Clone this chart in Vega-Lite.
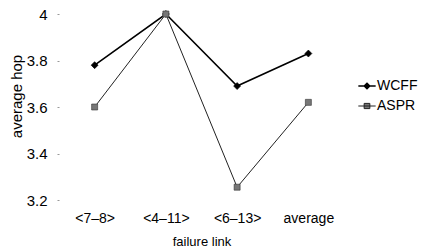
{
  "$schema": "https://vega.github.io/schema/vega-lite/v6.json",
  "width": 285,
  "height": 186,
  "autosize": {"type": "none"},
  "padding": {"left": 59, "top": 14, "right": 81, "bottom": 51},
  "background": "white",
  "config": {
    "view": {"stroke": null},
    "font": "Liberation Sans",
    "axis": {"grid": false, "domain": false, "labelColor": "black", "titleColor": "black", "titleFontWeight": "normal", "labelFont": "Liberation Sans", "titleFont": "Liberation Sans"},
    "legend": {"labelFont": "Liberation Sans", "labelColor": "black"}
  },
  "data": {
    "values": [
      {"link": "<7–8>", "series": "WCFF", "value": 3.78},
      {"link": "<4–11>", "series": "WCFF", "value": 4.0},
      {"link": "<6–13>", "series": "WCFF", "value": 3.69},
      {"link": "average", "series": "WCFF", "value": 3.83},
      {"link": "<7–8>", "series": "ASPR", "value": 3.6},
      {"link": "<4–11>", "series": "ASPR", "value": 4.0},
      {"link": "<6–13>", "series": "ASPR", "value": 3.255},
      {"link": "average", "series": "ASPR", "value": 3.62}
    ]
  },
  "encoding": {
    "x": {
      "field": "link", "type": "nominal", "sort": ["<7–8>", "<4–11>", "<6–13>", "average"],
      "scale": {"type": "point", "padding": 0.5},
      "axis": {"title": "failure link", "labelAngle": 0, "ticks": false, "labelPadding": 11, "labelFontSize": 14, "titleFontSize": 13, "titleBaseline": "alphabetic", "titleY": 45}
    },
    "y": {
      "field": "value", "type": "quantitative",
      "scale": {"domain": [3.2, 4.0], "nice": false, "zero": false},
      "axis": {"title": "average hop", "values": [3.2, 3.4, 3.6, 3.8, 4.0], "format": "~g", "tickSize": 2, "tickColor": "#999", "labelPadding": 10, "labelFontSize": 15, "titleFontSize": 15, "titleAngle": -90, "titleBaseline": "alphabetic", "titleAlign": "center", "titleX": -38, "titleY": 82}
    }
  },
  "layer": [
    {
      "mark": {"type": "line"},
      "encoding": {
        "color": {
          "field": "series", "type": "nominal", "sort": ["WCFF", "ASPR"],
          "scale": {"domain": ["WCFF", "ASPR"], "range": ["#000000", "#222222"]},
          "legend": {
            "title": null, "orient": "none", "legendX": 301, "legendY": 65, "padding": 0,
            "symbolSize": 300, "labelFontSize": 14, "labelOffset": 3, "rowPadding": 6,
            "symbolType": "stroke",
            "encode": {
              "symbols": {
                "update": {
                  "shape": {"signal": "datum.value === 'WCFF' ? 'M-1,0H1M0,-0.32L0.32,0L0,0.32L-0.32,0Z' : 'M-1,0H1M-0.33,-0.3H0.33V0.3H-0.33Z'"},
                  "fill": {"signal": "datum.value === 'WCFF' ? '#000000' : '#777777'"},
                  "stroke": {"signal": "datum.value === 'WCFF' ? '#000000' : '#222222'"},
                  "strokeWidth": {"signal": "datum.value === 'WCFF' ? 1.5 : 1"},
                  "opacity": {"value": 1},
                  "fillOpacity": {"value": 1},
                  "strokeOpacity": {"value": 1}
                }
              }
            }
          }
        },
        "strokeWidth": {"condition": {"test": "datum.series === 'WCFF'", "value": 1.6}, "value": 1}
      }
    },
    {
      "transform": [{"filter": "datum.series === 'WCFF'"}],
      "mark": {"type": "point", "shape": "diamond", "filled": true, "opacity": 1, "fill": "#000000", "stroke": "#000000", "strokeWidth": 0.6, "size": 49}
    },
    {
      "transform": [{"filter": "datum.series === 'ASPR'"}],
      "mark": {"type": "point", "shape": "square", "filled": true, "opacity": 1, "fill": "#777777", "stroke": "#333333", "strokeWidth": 0.6, "size": 36}
    }
  ]
}
